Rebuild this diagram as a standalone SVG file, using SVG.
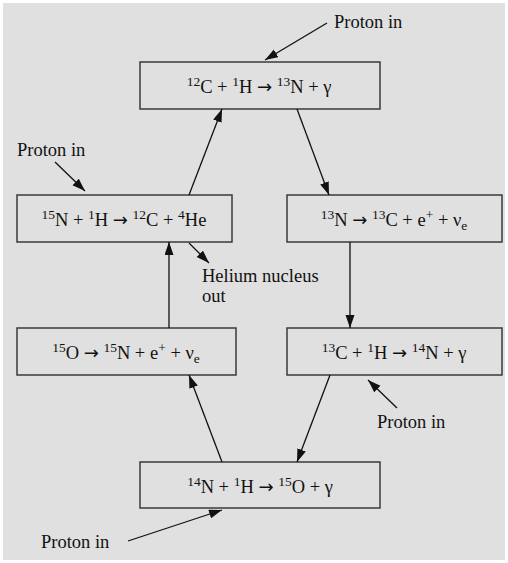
<svg xmlns="http://www.w3.org/2000/svg" width="508" height="563" viewBox="0 0 508 563">
<style>
.bg{fill:#e0e0e0}
.box{fill:#e0e0e0;stroke:#3a3a3a;stroke-width:1.5}
.t{font-family:"Liberation Serif","Times New Roman",serif;font-size:18.5px;fill:#111}
.eq{text-anchor:middle}
.s{font-size:13.5px}
.a{font-family:"DejaVu Sans",sans-serif;font-size:18px}
.c line{stroke:#111;stroke-width:1.3;marker-end:url(#ah)}
</style>
<defs>
<marker id="ah" markerUnits="userSpaceOnUse" markerWidth="14" markerHeight="10" refX="13" refY="4.5" orient="auto">
<path d="M0,0 L13,4.5 L0,9 z" fill="#111"/>
</marker>
</defs>
<rect class="bg" x="3" y="3" width="502" height="557"/>
<g id="n1"><rect class="box" x="140" y="62" width="240" height="47"/>
<text class="t eq" x="259" y="93"><tspan class="s" dy="-7">12</tspan><tspan dy="7">C + </tspan><tspan class="s" dy="-7">1</tspan><tspan dy="7">H </tspan><tspan class="a">→</tspan><tspan> </tspan><tspan class="s" dy="-7">13</tspan><tspan dy="7">N + γ</tspan></text></g>
<g id="n2"><rect class="box" x="287" y="195" width="215" height="47"/>
<text class="t eq" x="394" y="226"><tspan class="s" dy="-7">13</tspan><tspan dy="7">N </tspan><tspan class="a">→</tspan><tspan> </tspan><tspan class="s" dy="-7">13</tspan><tspan dy="7">C + e</tspan><tspan class="s" dy="-7">+</tspan><tspan dy="7"> + ν</tspan><tspan class="s" dy="4">e</tspan></text></g>
<g id="n3"><rect class="box" x="287" y="328" width="215" height="47"/>
<text class="t eq" x="394" y="359"><tspan class="s" dy="-7">13</tspan><tspan dy="7">C + </tspan><tspan class="s" dy="-7">1</tspan><tspan dy="7">H </tspan><tspan class="a">→</tspan><tspan> </tspan><tspan class="s" dy="-7">14</tspan><tspan dy="7">N + γ</tspan></text></g>
<g id="n4"><rect class="box" x="140" y="462" width="240" height="46"/>
<text class="t eq" x="260" y="493"><tspan class="s" dy="-7">14</tspan><tspan dy="7">N + </tspan><tspan class="s" dy="-7">1</tspan><tspan dy="7">H </tspan><tspan class="a">→</tspan><tspan> </tspan><tspan class="s" dy="-7">15</tspan><tspan dy="7">O + γ</tspan></text></g>
<g id="n5"><rect class="box" x="17" y="328" width="219" height="47"/>
<text class="t eq" x="126" y="359"><tspan class="s" dy="-7">15</tspan><tspan dy="7">O </tspan><tspan class="a">→</tspan><tspan> </tspan><tspan class="s" dy="-7">15</tspan><tspan dy="7">N + e</tspan><tspan class="s" dy="-7">+</tspan><tspan dy="7"> + ν</tspan><tspan class="s" dy="4">e</tspan></text></g>
<g id="n6"><rect class="box" x="17" y="195" width="215" height="47"/>
<text class="t eq" x="124" y="226"><tspan class="s" dy="-7">15</tspan><tspan dy="7">N + </tspan><tspan class="s" dy="-7">1</tspan><tspan dy="7">H </tspan><tspan class="a">→</tspan><tspan> </tspan><tspan class="s" dy="-7">12</tspan><tspan dy="7">C + </tspan><tspan class="s" dy="-7">4</tspan><tspan dy="7">He</tspan></text></g>
<g id="labels">
<text class="t" x="334" y="28">Proton in</text>
<text class="t" x="17" y="156">Proton in</text>
<text class="t" x="202" y="282">Helium nucleus</text>
<text class="t" x="202" y="302">out</text>
<text class="t" x="377" y="428">Proton in</text>
<text class="t" x="41" y="548">Proton in</text>
</g>
<g id="connectors" class="c">
<line x1="189" y1="195" x2="222" y2="109"/>
<line x1="297" y1="109" x2="329" y2="195"/>
<line x1="350" y1="242" x2="350" y2="328"/>
<line x1="330" y1="375" x2="297" y2="462"/>
<line x1="222" y1="462" x2="189" y2="375"/>
<line x1="169" y1="328" x2="169" y2="242"/>
<line x1="327" y1="23" x2="265" y2="60"/>
<line x1="55" y1="162" x2="85" y2="191"/>
<line x1="189" y1="243" x2="209" y2="263"/>
<line x1="397" y1="408" x2="368" y2="380"/>
<line x1="128" y1="541" x2="222" y2="510"/>
</g>
</svg>
